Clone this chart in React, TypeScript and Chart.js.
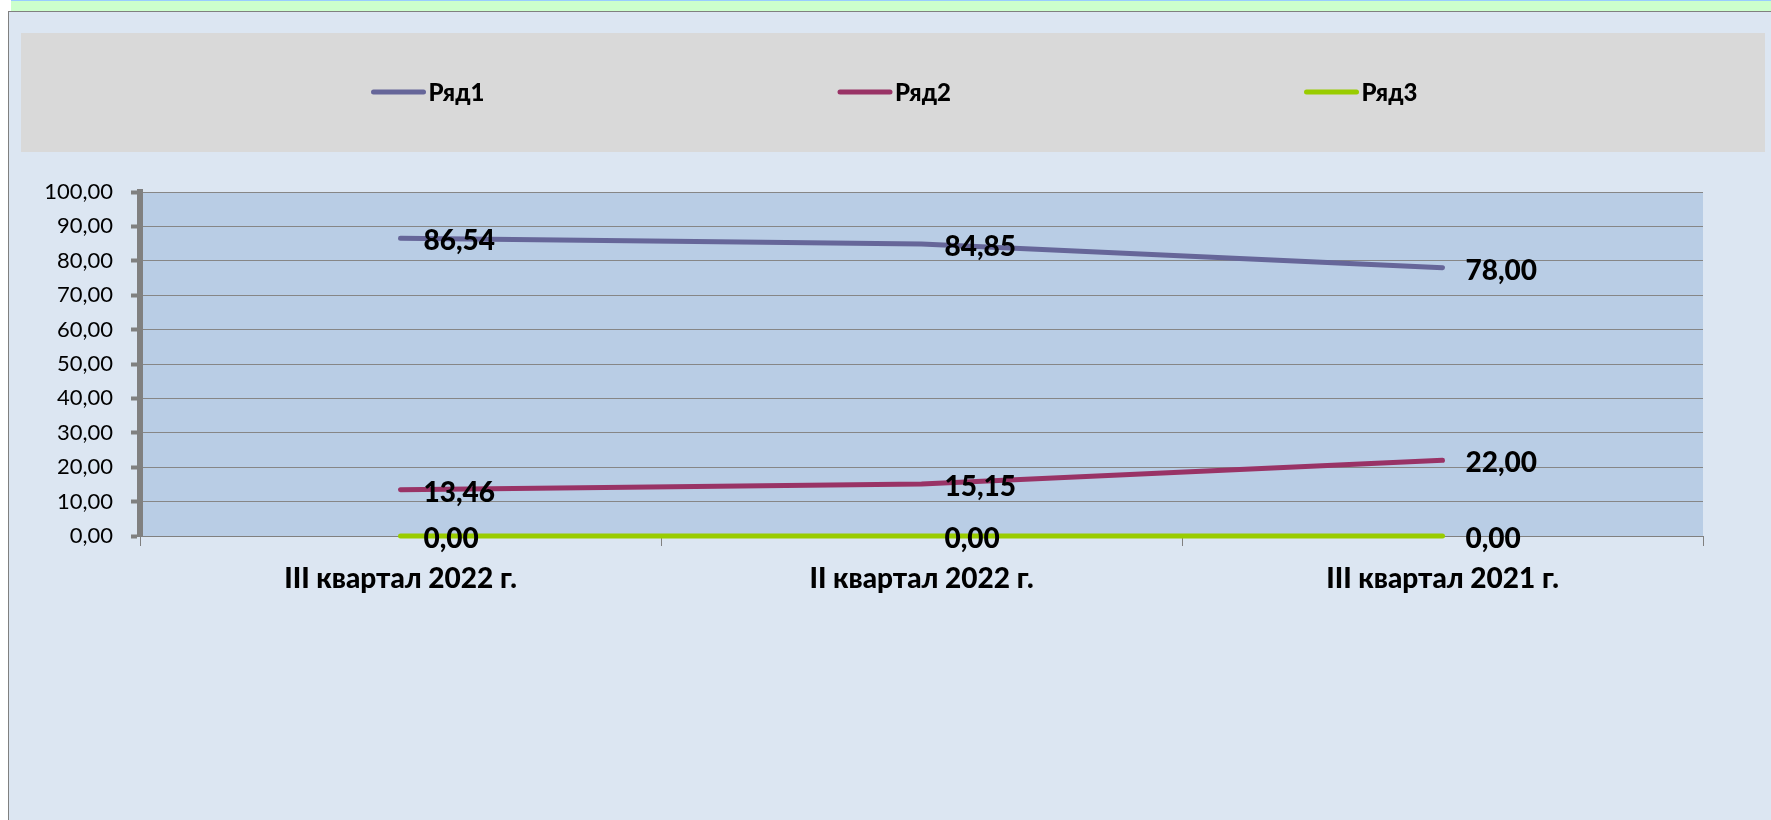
import React, { useEffect, useRef } from "react";
import { Chart, registerables } from "chart.js";

Chart.register(...registerables);

const categories = ["III квартал 2022 г.", "II квартал 2022 г.", "III квартал 2021 г."];
const seriesNames = ["Ряд1", "Ряд2", "Ряд3"];
const series1 = [86.54, 84.85, 78.0];
const series2 = [13.46, 15.15, 22.0];
const series3 = [0.0, 0.0, 0.0];
const seriesColors = ["#666699", "#993366", "#99CC00"];
const yMin = 0;
const yMax = 100;
const yStep = 10;

const fmt = (v: number) => Number(v).toFixed(2).replace(".", ",");

const FONT = "Lato";
const HEAVY = "900";

const backgroundPlugin = {
  id: "bgPlugin",
  beforeDraw(chart: any) {
    const { ctx, width, height, chartArea } = chart;
    ctx.save();
    ctx.fillStyle = "#FFFFFF";
    ctx.fillRect(0, 0, width, height);
    // top green band
    ctx.fillStyle = "#CCFFCC";
    ctx.fillRect(11, 0, width - 11, 11);
    ctx.fillStyle = "#99CCFF";
    ctx.fillRect(11, 0, width - 11, 1);
    // chart background
    ctx.fillStyle = "#DCE6F2";
    ctx.fillRect(8, 11, width - 8, height - 11);
    // border lines
    ctx.fillStyle = "#808080";
    ctx.fillRect(8, 11, width - 8, 1);
    ctx.fillRect(8, 11, 1, height - 11);
    // legend box
    ctx.fillStyle = "#D9D9D9";
    ctx.fillRect(21, 33, 1744, 119);
    // plot area
    ctx.fillStyle = "#B9CDE5";
    ctx.fillRect(chartArea.left, chartArea.top, chartArea.right - chartArea.left, chartArea.bottom - chartArea.top);
    ctx.restore();
  },
};

const legendPlugin = {
  id: "customLegend",
  afterDraw(chart: any) {
    const { ctx } = chart;
    const centerX = 893;
    const spacing = 466.5;
    const y = 92;
    const lineLen = 52;
    const n = chart.data.datasets.length;
    ctx.save();
    chart.data.datasets.forEach((ds: any, i: number) => {
      const x0 = centerX - 55 + (i - (n - 1) / 2) * spacing;
      ctx.strokeStyle = ds.borderColor;
      ctx.lineWidth = 5;
      ctx.lineCap = "round";
      ctx.beginPath();
      ctx.moveTo(x0 + 2, y);
      ctx.lineTo(x0 + lineLen, y);
      ctx.stroke();
      ctx.fillStyle = "#000000";
      ctx.font = `${HEAVY} 24px ${FONT}`;
      ctx.textAlign = "left";
      ctx.textBaseline = "middle";
      ctx.fillText(ds.label, x0 + lineLen + 5, y + 1);
    });
    ctx.restore();
  },
};

const dataLabelPlugin = {
  id: "dataLabels",
  afterDatasetsDraw(chart: any) {
    const { ctx } = chart;
    ctx.save();
    ctx.font = `${HEAVY} 28px ${FONT}`;
    ctx.fillStyle = "#000000";
    ctx.textAlign = "left";
    ctx.textBaseline = "middle";
    chart.data.datasets.forEach((ds: any, di: number) => {
      const meta = chart.getDatasetMeta(di);
      meta.data.forEach((el: any, i: number) => {
        ctx.fillText(fmt(ds.data[i]), el.x + 23, el.y + 3);
      });
    });
    ctx.restore();
  },
};

export default function App() {
  const canvasRef = useRef<HTMLCanvasElement | null>(null);

  useEffect(() => {
    if (!canvasRef.current) return;
    const chart = new Chart(canvasRef.current, {
      type: "line",
      data: {
        labels: categories,
        datasets: [series1, series2, series3].map((d, i) => ({
          label: seriesNames[i],
          data: d,
          borderColor: seriesColors[i],
          backgroundColor: seriesColors[i],
          borderWidth: 5,
          borderCapStyle: "round",
          borderJoinStyle: "round",
          pointRadius: 0,
          pointHoverRadius: 0,
          tension: 0,
          fill: false,
          clip: false,
        })),
      },
      options: {
        animation: false,
        responsive: false,
        devicePixelRatio: 1,
        layout: { padding: { left: 0, right: 68, top: 192, bottom: 224 } },
        plugins: {
          legend: { display: false },
          tooltip: { enabled: false },
          title: { display: false },
        },
        scales: {
          x: {
            type: "category",
            offset: true,
            afterFit: (scale: any) => {
              scale.height = 60;
            },
            grid: {
              display: true,
              offset: true,
              drawOnChartArea: false,
              drawTicks: true,
              tickLength: 10,
              tickColor: "#808080",
              tickWidth: 1,
              color: "#808080",
            },
            border: { display: true, color: "#808080", width: 1 },
            ticks: {
              color: "#000000",
              font: { family: FONT, size: 28, weight: HEAVY },
              padding: 16,
              maxRotation: 0,
              autoSkip: false,
            },
          },
          y: {
            min: yMin,
            max: yMax,
            afterFit: (scale: any) => {
              scale.width = 140;
            },
            grid: {
              color: "#868686",
              lineWidth: 1,
              drawTicks: true,
              tickLength: 9,
              tickWidth: 4,
              tickColor: "#808080",
            },
            border: { display: true, color: "#808080", width: 6 },
            ticks: {
              stepSize: yStep,
              color: "#000000",
              font: { family: FONT, size: 22 },
              padding: 18,
              callback: (v: any) => fmt(Number(v)),
            },
          },
        },
      },
      plugins: [backgroundPlugin, dataLabelPlugin, legendPlugin],
    } as any);
    return () => chart.destroy();
  }, []);

  return (
    <div style={{ position: "absolute", left: 0, top: 0, width: 1771, height: 820 }}>
      <canvas ref={canvasRef} width={1771} height={820} style={{ display: "block" }} />
    </div>
  );
}
